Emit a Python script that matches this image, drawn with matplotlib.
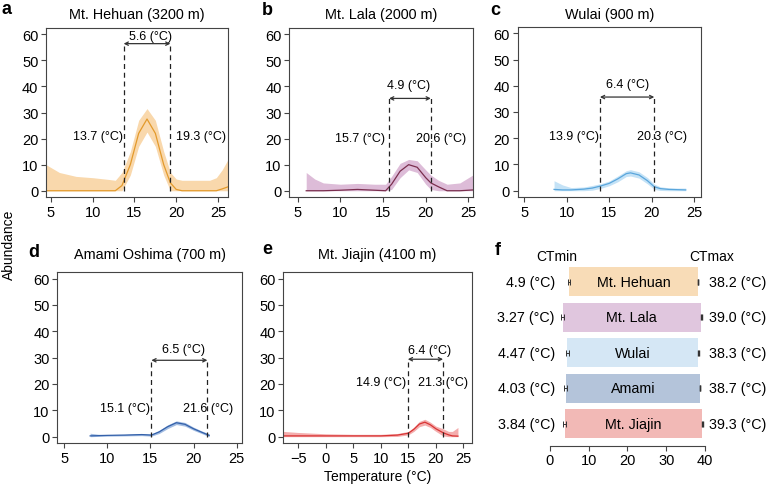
import numpy as np
import matplotlib
matplotlib.use('Agg')
import matplotlib.pyplot as plt

plt.rcParams['font.family'] = ['Liberation Sans', 'DejaVu Sans']

# ---------------- data ----------------
# Panel a: Mt. Hehuan (3200 m)
hehuan_x = [4.4, 6, 8, 10, 12, 12.7, 13.5, 14.5, 15.5, 16.5, 17.5, 18.5, 19.3, 20, 20.7, 22, 24, 24.8, 25.5, 26.2]
hehuan_line = [0, 0, 0, 0, 0, 0, 2, 10, 22, 27.5, 22, 10, 3, 0.5, 0, 0, 0, 0, 0.7, 1.5]
hehuan_upper = [10, 7, 5.5, 5, 4.3, 4, 7, 15, 27, 31.5, 27, 15, 7, 4.5, 4, 4, 4, 5, 8, 12]
hehuan_lower = [0, 0, 0, 0, 0, 0, 0, 6, 17, 22.5, 17, 6, 0, 0, 0, 0, 0, 0, 0, 0]

# Panel b: Mt. Lala (2000 m)
lala_x = [6, 7, 8, 10, 12, 14, 15.3, 16, 17, 18, 19, 20, 20.6, 21.5, 22.5, 24, 25.5]
lala_line = [0, 0, 0, 0.2, 0.5, 0.2, 0, 2.5, 7.5, 10, 9, 5, 3, 1.5, 0, 0, 0.3]
lala_upper = [7, 4.5, 3, 2.5, 2.8, 2.5, 2.5, 5.5, 10.5, 12, 11.5, 8, 6, 4, 2.5, 3, 6]
lala_lower = [0, 0, 0, 0, 0, 0, 0, 0.5, 5, 8, 7, 2.5, 0.5, 0, 0, 0, 0]

# Panel c: Wulai (900 m)
wulai_x = [8.5, 9.5, 10.5, 12, 13, 14, 15, 16, 17, 17.5, 18.5, 19.5, 20.3, 21, 22, 23, 24]
wulai_line = [0.5, 0.3, 0.3, 0.6, 1, 1.8, 2.8, 4.5, 6.5, 6.8, 6, 3.8, 1.5, 0.8, 0.5, 0.4, 0.3]
wulai_upper = [3.8, 2.2, 1.2, 1.4, 2, 2.7, 3.7, 5.6, 7.6, 8, 7.2, 5, 2.5, 1.5, 1.1, 1, 1]
wulai_lower = [0, 0, 0, 0, 0.2, 0.9, 1.9, 3.4, 5.4, 5.6, 4.8, 2.6, 0.5, 0.1, 0, 0, 0]

# Panel d: Amami Oshima (700 m)
amami_x = [8, 9, 10, 12, 14, 15.1, 16, 17, 18, 19, 20, 21, 21.8]
amami_line = [0.3, 0.4, 0.5, 0.6, 0.8, 0.6, 1.8, 3.8, 5.3, 4.7, 3, 1.6, 0.5]
amami_upper = [1.3, 0.9, 0.8, 0.9, 1.2, 1.0, 2.4, 4.5, 6, 5.4, 3.6, 2.1, 1.1]
amami_lower = [0, 0.1, 0.2, 0.3, 0.4, 0.2, 1.2, 3.1, 4.6, 4, 2.4, 1.1, 0]

# Panel e: Mt. Jiajin (4100 m)
jiajin_x = [-7.7, -5, 0, 5, 10, 13, 15, 16, 17, 18, 19, 20, 21.3, 22.3, 23, 24]
jiajin_line = [0.3, 0.3, 0.3, 0.3, 0.3, 0.6, 1.3, 2.8, 4.8, 5.5, 4.5, 3, 1.5, 0.7, 0.3, 0.2]
jiajin_upper = [2, 1.6, 1.1, 0.9, 0.9, 1.2, 2, 3.6, 5.8, 6.6, 5.5, 4, 3, 2, 2, 3.5]
jiajin_lower = [0, 0, 0, 0, 0, 0.1, 0.7, 2, 3.8, 4.4, 3.5, 2, 0.3, 0, 0, 0]

titles = ['Mt. Hehuan (3200 m)', 'Mt. Lala (2000 m)', 'Wulai (900 m)',
          'Amami Oshima (700 m)', 'Mt. Jiajin (4100 m)']
letters = ['a', 'b', 'c', 'd', 'e']
range_lo = [13.7, 15.7, 13.9, 15.1, 14.9]
range_hi = [19.3, 20.6, 20.3, 21.6, 21.3]
range_lo_lbl = ['13.7', '15.7', '13.9', '15.1', '14.9']
range_hi_lbl = ['19.3', '20.6', '20.3', '21.6', '21.3']
range_w_lbl = ['5.6', '4.9', '6.4', '6.5', '6.4']

# Panel f
sites = ['Mt. Hehuan', 'Mt. Lala', 'Wulai', 'Amami', 'Mt. Jiajin']
ctmin = [4.9, 3.27, 4.47, 4.03, 3.84]
ctmax = [38.2, 39.0, 38.3, 38.7, 39.3]
ctmin_lbl = ['4.9', '3.27', '4.47', '4.03', '3.84']
ctmax_lbl = ['38.2', '39.0', '38.3', '38.7', '39.3']
ctmin_err = [0.35, 0.35, 0.35, 0.35, 0.35]
ctmax_err = [0.1, 0.1, 0.1, 0.1, 0.1]

# ---------------- styles / layout ----------------
line_colors = ['#E39A2C', '#7A2E4E', '#5AA6DC', '#3461AA', '#D83434']
band_colors = ['#F9D8AC', '#DDBCD8', '#C4E2F6', '#A3BDE2', '#F4ADAD']
bar_colors = ['#F8DCB7', '#E0C6DE', '#D5E7F5', '#B4C4DA', '#F2B9B6']

W, H = 767, 489
fig = plt.figure(figsize=(W / 100, H / 100), dpi=100)


def ax_px(l, t, r, b):
    return fig.add_axes([l / W, 1 - b / H, (r - l) / W, (b - t) / H])


boxes = [(46, 29, 228, 198), (289.3, 29, 472.7, 198), (517.7, 28, 701, 198),
         (57.3, 273.3, 242.3, 444), (283.3, 273.3, 471.7, 444)]
xlims = [(4.4, 26.2), (4.02, 25.5), (4.22, 25.8), (4.19, 25.65), (-7.7, 26.5)]
xticks = [[5, 10, 15, 20, 25]] * 4 + [[-5, 0, 5, 10, 15, 20, 25]]
arrow_y = [56.4, 35.4, 35.7, 29, 29.4]
lbl_y = [21, 20.1, 21, 10.8, 20.9]
lo_lbl_x = [13.59, 15.23, 13.82, 14.94, 14.58]
hi_lbl_x = [19.97, 18.87, 18.22, 18.8, 16.8]
w_lbl_x = [16.86, 17.97, 17.16, 18.8, 18.8]
w_lbl_y = [59.3, 40.5, 40.6, 33.1, 33]
letter_pos = [(1, 14), (262, 15), (490, 15), (28, 257), (262, 254)]
title_y = [19.5, 19.5, 18.5, 259, 259]

series = [
    (hehuan_x, hehuan_line, hehuan_upper, hehuan_lower),
    (lala_x, lala_line, lala_upper, lala_lower),
    (wulai_x, wulai_line, wulai_upper, wulai_lower),
    (amami_x, amami_line, amami_upper, amami_lower),
    (jiajin_x, jiajin_line, jiajin_upper, jiajin_lower),
]

frame_col = '#444444'
for i in range(5):
    l, t, r, b = boxes[i]
    ax = ax_px(l, t, r, b)
    x, yl, yu, ylo = series[i]
    ax.fill_between(x, ylo, yu, color=band_colors[i], lw=0, zorder=1)
    ax.plot(x, yl, color=line_colors[i], lw=0.9, zorder=2)
    ax.set_xlim(*xlims[i])
    ax.set_ylim(-2.4, 62.4)
    ax.set_xticks(xticks[i])
    ax.set_yticks([0, 10, 20, 30, 40, 50, 60])
    ax.tick_params(direction='out', length=3.5, width=0.8, color=frame_col,
                   labelsize=10.5, pad=2)
    for s in ax.spines.values():
        s.set_color(frame_col)
        s.set_linewidth(0.8)
    lo, hi, ay = range_lo[i], range_hi[i], arrow_y[i]
    ax.vlines([lo, hi], 0, ay, colors='#222222', lw=0.9,
              linestyles=(0, (4, 3)), zorder=3)
    ax.annotate('', xy=(hi, ay), xytext=(lo, ay),
                arrowprops=dict(arrowstyle='<->', color='#333333', lw=0.9,
                                shrinkA=0, shrinkB=0, mutation_scale=6))
    ax.text(lo_lbl_x[i], lbl_y[i], f'{range_lo_lbl[i]} (°C)', ha='right',
            va='center', fontsize=9)
    ax.text(hi_lbl_x[i], lbl_y[i], f'{range_hi_lbl[i]} (°C)', ha='left',
            va='center', fontsize=9)
    ax.text(w_lbl_x[i], w_lbl_y[i], f'{range_w_lbl[i]} (°C)', ha='center',
            va='center', fontsize=9)
    fig.text(((l + r) / 2) / W, 1 - title_y[i] / H, titles[i], ha='center',
             va='baseline', fontsize=10.4)
    lx, ly = letter_pos[i]
    fig.text(lx / W, 1 - ly / H, letters[i], ha='left', va='baseline',
             fontsize=13, fontweight='bold')
    if i == 4:
        ax.set_xlabel('Temperature (°C)', fontsize=10, labelpad=3)

fig.text(9 / W, 1 - 245 / H, 'Abundance', rotation=90, ha='center',
         va='center', fontsize=10)

# ---------------- panel f ----------------
axf = ax_px(505, 250, 767, 446.7)
axf.set_xlim(-11.6, 56)
axf.set_ylim(4.62, -0.92)
rows = np.arange(len(sites))
widths = [b - a for a, b in zip(ctmin, ctmax)]
axf.barh(rows, widths, left=ctmin, height=0.825, color=bar_colors, zorder=1)
axf.errorbar(ctmin, rows, xerr=ctmin_err, fmt='none', ecolor='#333333',
             elinewidth=0.7, capsize=2.4, capthick=0.7, zorder=3)
axf.errorbar(ctmax, rows, xerr=ctmax_err, fmt='none', ecolor='#333333',
             elinewidth=0.7, capsize=2.4, capthick=1.0, zorder=3)
for j in range(len(sites)):
    axf.text((ctmin[j] + ctmax[j]) / 2, rows[j], sites[j], ha='center',
             va='center', fontsize=10.3)
    axf.text(1.3, rows[j], f'{ctmin_lbl[j]} (°C)', ha='right', va='center',
             fontsize=10.3)
    axf.text(41.0, rows[j], f'{ctmax_lbl[j]} (°C)', ha='left', va='center',
             fontsize=10.3)
axf.text(1.8, -0.73, 'CTmin', ha='center', va='center', fontsize=10)
axf.text(41.7, -0.73, 'CTmax', ha='center', va='center', fontsize=10)
for s in ['left', 'right', 'top']:
    axf.spines[s].set_visible(False)
axf.spines['bottom'].set_bounds(0, 40)
axf.spines['bottom'].set_color(frame_col)
axf.spines['bottom'].set_linewidth(0.8)
axf.set_yticks([])
axf.set_xticks([0, 10, 20, 30, 40])
axf.tick_params(axis='x', direction='out', length=3.5, width=0.8,
                color=frame_col, labelsize=10.5, pad=2)
axf.patch.set_visible(False)
fig.text(495 / W, 1 - 255 / H, 'f', ha='left', va='baseline', fontsize=13,
         fontweight='bold')

fig.savefig('out.png', dpi=100)
